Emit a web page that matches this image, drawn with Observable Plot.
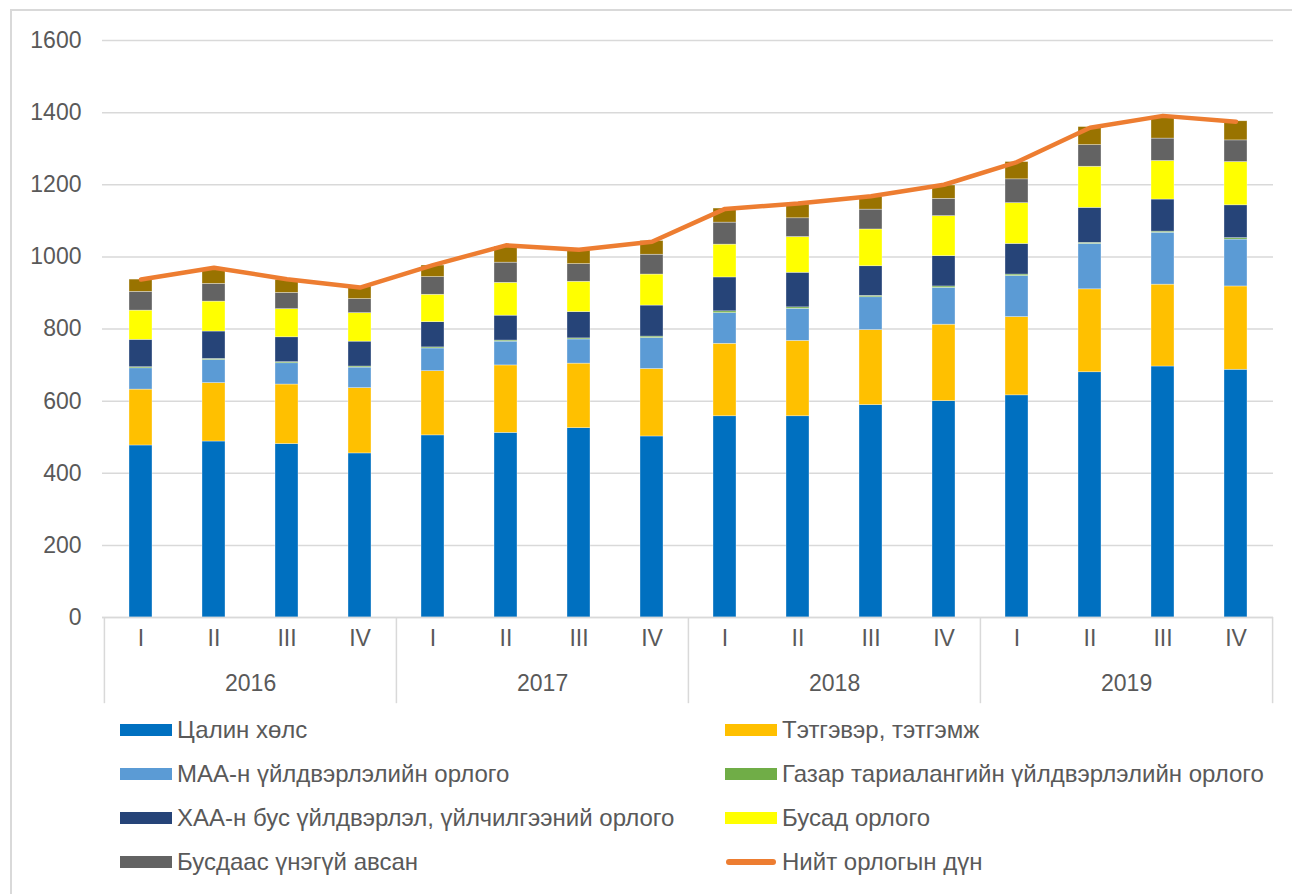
<!DOCTYPE html>
<html>
<head>
<meta charset="utf-8">
<script src="https://cdn.jsdelivr.net/npm/d3@7"></script>
<script src="https://cdn.jsdelivr.net/npm/@observablehq/plot@0.6"></script>
<style>
  html, body { margin: 0; padding: 0; background: #fff; }
  #wrap { position: relative; width: 1292px; height: 894px; overflow: hidden; font-family: "Liberation Sans", Arial, sans-serif; }
  #border { position: absolute; left: 10px; top: 9px; width: 1300px; height: 900px; border-left: 2px solid #d9d9d9; border-top: 2px solid #d9d9d9; }
  #chart { position: absolute; left: 0; top: 0; }
  #legend { position: absolute; left: 120px; top: 708px; display: grid; grid-template-columns: 605px 560px; grid-auto-rows: 44px; }
  .item { display: flex; align-items: center; font-size: 24px; color: #595959; white-space: nowrap; }
  .sw { width: 52px; height: 12px; margin-right: 5px; flex: none; }
  .ln { width: 50px; height: 6px; border-radius: 3px; margin: 0 6px 0 1px; flex: none; }
</style>
</head>
<body>
<div id="wrap">
  <div id="border"></div>
  <div id="chart"></div>
  <div id="legend"></div>
</div>
<script>
const years = ["2016", "2017", "2018", "2019"];
const quarters = ["I", "II", "III", "IV"];
const seriesNames = [
  "Цалин хөлс",
  "Тэтгэвэр, тэтгэмж",
  "МАА-н үйлдвэрлэлийн орлого",
  "Газар тариалангийн үйлдвэрлэлийн орлого",
  "ХАА-н бус үйлдвэрлэл, үйлчилгээний орлого",
  "Бусад орлого",
  "Бусдаас үнэгүй авсан",
  "Бусад"
];
const seriesColors = ["#0070C0", "#FFC000", "#5B9BD5", "#70AD47", "#264478", "#FFFF00", "#636363", "#997300"];
const salary    = [477, 488, 481, 455, 505, 512, 525, 502, 558, 558, 589, 600, 616, 680, 696, 687];
const pension   = [155, 162, 165, 181, 178, 187, 179, 187, 201, 209, 208, 212, 217, 230, 227, 231];
const livestock = [59, 64, 59, 57, 63, 66, 67, 86, 85, 89, 91, 102, 114, 126, 144, 130];
const crop      = [3, 3, 3, 3, 3, 3, 3, 4, 5, 4, 4, 4, 4, 3, 3, 4];
const nonAgri   = [76, 76, 69, 69, 70, 69, 73, 86, 94, 96, 82, 84, 85, 97, 89, 91];
const otherInc  = [81, 83, 78, 79, 76, 91, 84, 86, 91, 99, 102, 111, 113, 114, 107, 120];
const gifts     = [52, 49, 45, 39, 49, 56, 49, 55, 61, 52, 55, 48, 66, 60, 62, 60];
const unnamed   = [34, 40, 36, 35, 32, 44, 38, 38, 39, 38, 35, 37, 48, 50, 59, 53];
const totals    = [937, 970, 938, 915, 977, 1032, 1020, 1042, 1133, 1148, 1168, 1200, 1263, 1358, 1391, 1375];
const totalName = "Нийт орлогын дүн";
const yTicks = [0, 200, 400, 600, 800, 1000, 1200, 1400, 1600];

const seriesValues = [salary, pension, livestock, crop, nonAgri, otherInc, gifts, unnamed];
const keys = [];
const periods = [];
years.forEach(y => quarters.forEach(q => { keys.push(y + "-" + q); periods.push({key: y + "-" + q, year: y, q}); }));

const rows = [];
keys.forEach((k, i) => seriesNames.forEach((s, j) => rows.push({key: k, series: s, value: seriesValues[j][i]})));
const lineData = keys.map((k, i) => ({key: k, total: totals[i]}));

const W = 1292, H = 710, mL = 102, mR = 19, mT = 40, mB = 93;
const step = (W - mL - mR) / keys.length;
const pad = 0.686;

const txt = "#595959";
const chart = Plot.plot({
  width: W, height: H,
  marginLeft: mL, marginRight: mR, marginTop: mT, marginBottom: mB,
  style: {fontFamily: "'Liberation Sans', Arial, sans-serif", background: "transparent"},
  x: {type: "band", domain: keys, paddingInner: pad, paddingOuter: pad / 2, axis: null},
  y: {domain: [0, 1600], axis: null},
  color: {domain: seriesNames, range: seriesColors},
  marks: [
    Plot.gridY(yTicks, {stroke: "#d9d9d9", strokeOpacity: 1, strokeWidth: 1.5}),
    Plot.axisY(yTicks, {tickSize: 0, tickPadding: 21, fontSize: 23, color: txt, label: null, tickFormat: d => String(d)}),
    Plot.barY(rows, {x: "key", y: "value", fill: "series", stroke: "#ffffff", strokeWidth: 0.6, strokeOpacity: 0.55}),
    Plot.lineY(lineData, {x: "key", y: "total", stroke: "#ED7D31", strokeWidth: 4.5, strokeLinecap: "round", strokeLinejoin: "round"}),
    Plot.text(periods, {x: "key", text: "q", frameAnchor: "bottom", dy: 28, fontSize: 23, fill: txt}),
    Plot.text(periods.filter(p => p.q === "II"), {x: "key", text: "year", frameAnchor: "bottom", dy: 73, dx: step / 2, fontSize: 23, fill: txt}),
    Plot.ruleX(periods.filter(p => p.q === "I"), {x: "key", y1: 0, y2: -239, dx: -step / 2, stroke: "#d9d9d9", strokeWidth: 1.5}),
    Plot.ruleX(periods.filter(p => p.key === "2019-IV"), {x: "key", y1: 0, y2: -239, dx: step / 2, stroke: "#d9d9d9", strokeWidth: 1.5}),
    Plot.ruleY([0], {stroke: "#d9d9d9", strokeWidth: 1.5})
  ]
});
document.getElementById("chart").appendChild(chart);

const legend = document.getElementById("legend");
const entries = [
  [seriesNames[0], seriesColors[0], false],
  [seriesNames[1], seriesColors[1], false],
  [seriesNames[2], seriesColors[2], false],
  [seriesNames[3], seriesColors[3], false],
  [seriesNames[4], seriesColors[4], false],
  [seriesNames[5], seriesColors[5], false],
  [seriesNames[6], seriesColors[6], false],
  [totalName, "#ED7D31", true]
];
entries.forEach(([name, color, isLine]) => {
  const it = document.createElement("div");
  it.className = "item";
  const sw = document.createElement("span");
  sw.className = isLine ? "ln" : "sw";
  sw.style.background = color;
  it.appendChild(sw);
  it.appendChild(document.createTextNode(name));
  legend.appendChild(it);
});
</script>
</body>
</html>
